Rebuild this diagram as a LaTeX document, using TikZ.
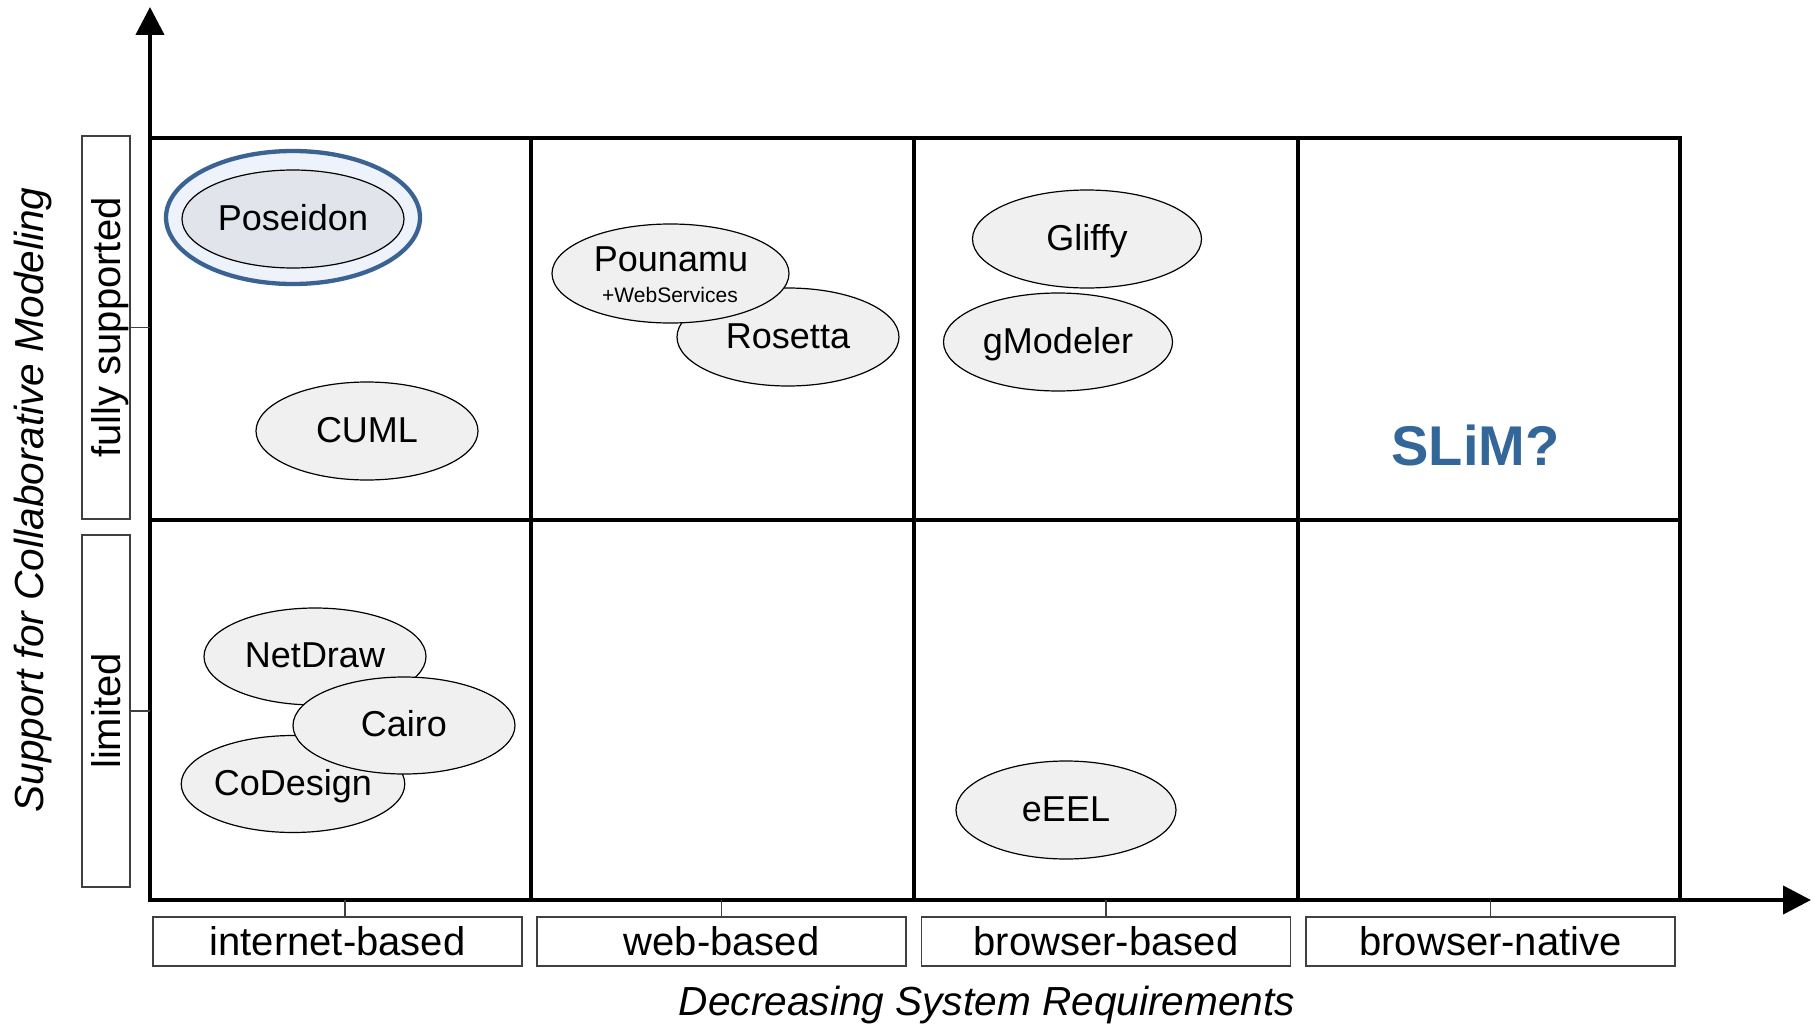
\documentclass[tikz,border=0pt]{standalone}
\usepackage{fontspec}
\setmainfont{Liberation Sans}
\usetikzlibrary{shapes.geometric,arrows.meta}
\definecolor{ellfill}{HTML}{F0F0F0}
\definecolor{posblue}{HTML}{3A6293}
\definecolor{posouter}{HTML}{EEF2FA}
\definecolor{posinner}{HTML}{E1E5EB}
\definecolor{slimblue}{HTML}{336699}
\definecolor{boxgray}{HTML}{404040}
\begin{document}
\begin{tikzpicture}[x=1pt,y=-1pt,
  tool/.style={ellipse, draw=black, line width=1.2pt, fill=ellfill, minimum width=222pt, minimum height=98pt, inner sep=0pt, font=\fontsize{36}{40}\selectfont, text height=22pt, text depth=0pt},
  gridline/.style={line width=4.3pt},
  axisline/.style={line width=4.3pt, -{Triangle[length=28pt,width=28pt]}},
  lblbox/.style={draw=boxgray, line width=1.3pt, inner sep=0pt, font=\fontsize{40}{44}\selectfont, text height=28pt, text depth=0pt},
  xbox/.style={lblbox, minimum width=369pt, minimum height=49pt},
  tickline/.style={draw=boxgray, line width=1.2pt},
  axtitle/.style={font=\fontsize{40.6}{44}\selectfont\itshape}
]
\useasboundingbox (0,0) rectangle (1816,1025);

% grid
\draw[gridline] (150,138) rectangle (1680,900);
\draw[gridline] (531,138) -- (531,900);
\draw[gridline] (914,138) -- (914,900);
\draw[gridline] (1298,138) -- (1298,900);
\draw[gridline] (150,520) -- (1680,520);

% axes
\coordinate (O) at (150,900);
\coordinate (ytip) at (150,7);
\coordinate (xtip) at (1811,900);
\draw[axisline] (O) -- (ytip);
\draw[axisline] (O) -- (xtip);

% y labels
\node[lblbox, rotate=90, minimum width=383pt, minimum height=48pt] (fs) at (106,327.5) {fully supported};
\node[lblbox, rotate=90, minimum width=352pt, minimum height=48pt] (lim) at (106,711) {limited};
\draw[tickline] (fs.south) -- (fs.south -| O);
\draw[tickline] (lim.south) -- (lim.south -| O);

% x labels
\node[xbox] (ib) at (337.5,941.5) {internet-based};
\node[xbox] (wb) at (721.5,941.5) {web-based};
\node[xbox] (bb) at (1106,941.5) {browser-based};
\node[xbox] (bn) at (1490.5,941.5) {browser-native};
\coordinate (ibt) at (345,917);
\draw[tickline] (ibt) -- (ibt |- O);
\draw[tickline] (wb.north) -- (wb.north |- O);
\draw[tickline] (bb.north) -- (bb.north |- O);
\draw[tickline] (bn.north) -- (bn.north |- O);

% axis titles
\node[axtitle, anchor=base] (xt) at (987,1015) {Decreasing System Requirements};
\node[axtitle, anchor=base, rotate=90] (yt) at (43,500) {Support for Collaborative Modeling};

% Poseidon
\node[ellipse, draw=posblue, line width=4.3pt, fill=posouter, minimum width=254pt, minimum height=133pt, inner sep=0pt] (posout) at (293,217.5) {};
\node[tool, fill=posinner] (pos) at (293,219) {Poseidon};

% tools
\node[tool] (cuml) at (367,431) {CUML};
\node[tool] (ros) at (788,337) {Rosetta};
\node[tool, minimum width=237pt, minimum height=99pt] (pou) at (670.5,273.5) {};
\node[anchor=base, font=\fontsize{36}{40}\selectfont] (pout) at (671,271) {Pounamu};
\node[anchor=base, font=\fontsize{21}{24}\selectfont] (pows) at (670,302) {+WebServices};
\node[tool, minimum width=229pt] (gli) at (1087,239) {Gliffy};
\node[tool, minimum width=229pt] (gmo) at (1058,342) {gModeler};
\node[tool, minimum height=97pt] (net) at (315,656.5) {NetDraw};
\node[tool, minimum height=97pt] (cod) at (293,784) {CoDesign};
\node[tool, minimum height=97pt] (cai) at (404,725.5) {Cairo};
\node[tool, minimum width=220pt] (eel) at (1066,810) {eEEL};

% SLiM
\node[anchor=base, text=slimblue, font=\fontsize{56}{60}\selectfont\bfseries] (slim) at (1475.5,465) {SLiM?};
\end{tikzpicture}
\end{document}
